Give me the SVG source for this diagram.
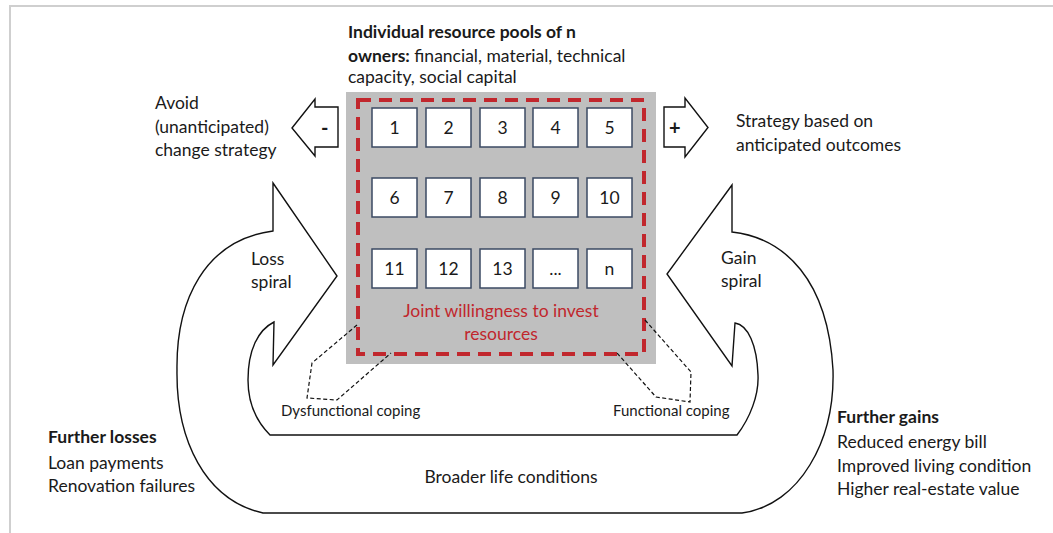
<svg xmlns="http://www.w3.org/2000/svg" width="1053" height="533" viewBox="0 0 1053 533">
<style>
text{font-family:Lato,"Liberation Sans",sans-serif;fill:#1a1a1a;}
.t{font-size:17.5px;}
.b{font-weight:bold;}
.s{font-size:15px;}
.n{font-size:17.5px;text-anchor:middle;}
.box{fill:#fff;stroke:#3b4a63;stroke-width:1.5;}
.sh{fill:#fff;stroke:#111;stroke-width:1.4;stroke-linejoin:miter;}
.call{fill:none;stroke:#111;stroke-width:1.2;stroke-dasharray:4 2.5;}
.red{fill:#c1272d;}
</style>
<rect x="0" y="0" width="1053" height="533" fill="#fff"/>
<path d="M10 533 V6 H1053" fill="none" stroke="#cfcfcf" stroke-width="2"/>

<g id="spirals">
<path class="sh" d="M273 183 L337 276 L273 365 L274 322 C258 330 248 350 248 380 C248 405 258 423 270 435 L737 435 C750 418 759 395 758 375 C757 345 748 325 735 323 L732 366 L667 274 L732 185 L732 232 C785 238 828 280 833 370 C835 440 800 505 742 513 L263 513 C205 500 176 440 177 370 C176 300 205 240 273 231 Z"/>
</g>

<g id="pool">
<rect x="346" y="92" width="310" height="272" fill="#bfbfbf"/>
<rect x="358" y="100" width="286" height="254" fill="none" stroke="#c1272d" stroke-width="4" stroke-dasharray="13 8"/>
</g>

<g id="owners">
<g id="o1"><rect class="box" x="372" y="108" width="45" height="39"/><text class="n" x="394.5" y="133.5">1</text></g>
<g id="o2"><rect class="box" x="426" y="108" width="45" height="39"/><text class="n" x="448.5" y="133.5">2</text></g>
<g id="o3"><rect class="box" x="480" y="108" width="45" height="39"/><text class="n" x="502.5" y="133.5">3</text></g>
<g id="o4"><rect class="box" x="533" y="108" width="45" height="39"/><text class="n" x="555.5" y="133.5">4</text></g>
<g id="o5"><rect class="box" x="587" y="108" width="45" height="39"/><text class="n" x="609.5" y="133.5">5</text></g>
<g id="o6"><rect class="box" x="372" y="178" width="45" height="39"/><text class="n" x="394.5" y="203.5">6</text></g>
<g id="o7"><rect class="box" x="426" y="178" width="45" height="39"/><text class="n" x="448.5" y="203.5">7</text></g>
<g id="o8"><rect class="box" x="480" y="178" width="45" height="39"/><text class="n" x="502.5" y="203.5">8</text></g>
<g id="o9"><rect class="box" x="533" y="178" width="45" height="39"/><text class="n" x="555.5" y="203.5">9</text></g>
<g id="o10"><rect class="box" x="587" y="178" width="45" height="39"/><text class="n" x="609.5" y="203.5">10</text></g>
<g id="o11"><rect class="box" x="372" y="249" width="45" height="39"/><text class="n" x="394.5" y="274.5">11</text></g>
<g id="o12"><rect class="box" x="426" y="249" width="45" height="39"/><text class="n" x="448.5" y="274.5">12</text></g>
<g id="o13"><rect class="box" x="480" y="249" width="45" height="39"/><text class="n" x="502.5" y="274.5">13</text></g>
<g id="odots"><rect class="box" x="533" y="249" width="45" height="39"/><text class="n" x="555.5" y="274.5">...</text></g>
<g id="on"><rect class="box" x="587" y="249" width="45" height="39"/><text class="n" x="609.5" y="274.5">n</text></g>
</g>

<g id="joint">
<text class="t red" x="501" y="317" text-anchor="middle" style="fill:#c1272d">Joint willingness to invest</text>
<text class="t red" x="501" y="340" text-anchor="middle" style="fill:#c1272d">resources</text>
</g>

<g id="title">
<text class="t b" x="348" y="38">Individual resource pools of n</text>
<text class="t" x="348" y="62"><tspan class="b">owners:</tspan> financial, material, technical</text>
<text class="t" x="348" y="83">capacity, social capital</text>
</g>

<g id="minus">
<polygon class="sh" points="292,128 315,99 315,107 338,107 338,147 315,147 315,156"/>
<text class="b" x="321" y="135" style="font-size:20px">-</text>
</g>
<g id="plus">
<polygon class="sh" points="664,107 685,107 685,98 708,127.5 685,157 685,147 664,147"/>
<text class="b" x="669" y="135" style="font-size:20px">+</text>
</g>

<g id="avoid">
<text class="t" x="155" y="109">Avoid</text>
<text class="t" x="155" y="133">(unanticipated)</text>
<text class="t" x="155" y="156">change strategy</text>
</g>
<g id="strategy">
<text class="t" x="736" y="127">Strategy based on</text>
<text class="t" x="736" y="151">anticipated outcomes</text>
</g>

<g id="loss"><text class="t" x="251" y="265">Loss</text><text class="t" x="251" y="288">spiral</text></g>
<g id="gain"><text class="t" x="721" y="264">Gain</text><text class="t" x="721" y="287">spiral</text></g>

<g id="connectors">
<polyline class="call" points="357,325 312,363 307,398 337,400 391,353"/>
<polyline class="call" points="645,320 691,372 690,402 656,397 617,353"/>
</g>

<g id="coping">
<text class="s" x="281" y="416">Dysfunctional coping</text>
<text class="s" x="613" y="416">Functional coping</text>
</g>

<g id="broader"><text class="t" x="511" y="483" text-anchor="middle">Broader life conditions</text></g>

<g id="losses">
<text class="t b" x="48" y="443">Further losses</text>
<text class="t" x="48" y="469">Loan payments</text>
<text class="t" x="48" y="492">Renovation failures</text>
</g>
<g id="gains">
<text class="t b" x="837" y="423">Further gains</text>
<text class="t" x="837" y="448">Reduced energy bill</text>
<text class="t" x="837" y="472">Improved living condition</text>
<text class="t" x="837" y="495">Higher real-estate value</text>
</g>
</svg>
